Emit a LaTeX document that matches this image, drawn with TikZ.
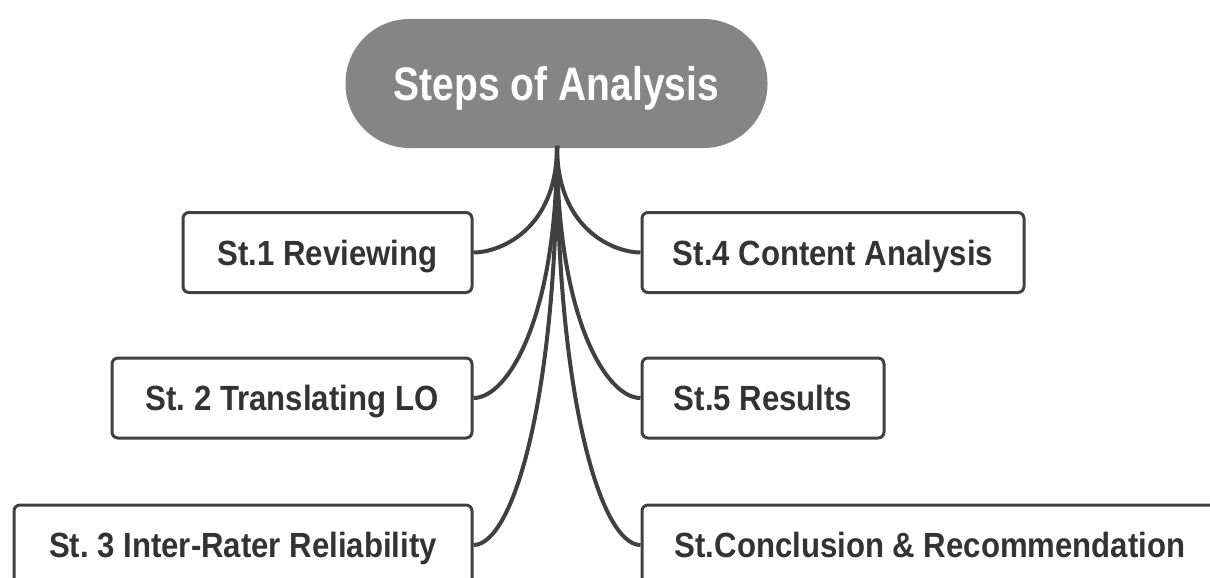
\documentclass[tikz,border=0pt]{standalone}
\usepackage{fontspec}
\newfontfamily\labfont[FakeStretch=0.89]{Liberation Sans}
\newfontfamily\ttlfont[FakeStretch=0.83]{Liberation Sans}
\definecolor{rootgray}{HTML}{858585}
\definecolor{edgegray}{HTML}{404040}
\definecolor{txtgray}{HTML}{333333}
\frenchspacing
\tikzset{
  rootbox/.style={draw=none, fill=rootgray, rounded corners=64pt, minimum width=422pt, minimum height=129pt, inner sep=0pt, text height=34pt, text depth=0pt, text=white, font=\ttlfont\bfseries\fontsize{47}{56}\selectfont},
  stepbox/.style={draw=edgegray, line width=3pt, fill=white, rounded corners=6pt, minimum height=80pt, inner sep=0pt, text height=25pt, text depth=0pt, text=txtgray, font=\labfont\bfseries\fontsize{35}{42}\selectfont},
  conn/.style={draw=edgegray, line width=4pt}
}
\begin{document}
\begin{tikzpicture}[x=1pt,y=-1pt]
\useasboundingbox (0,0) rectangle (1210,578);
\fill[white] (0,0) rectangle (1210,578);
\clip (0,0) rectangle (1210,578);
\node[rootbox] (root) at (556.5,83.5) {Steps of Analysis};
\node[stepbox, minimum width=289pt] (s1) at (327.5,252.5) {St.1 Reviewing};
\node[stepbox, minimum width=360pt] (s2) at (292,398) {St. 2 Translating LO};
\node[stepbox, minimum width=458pt] (s3) at (243,545) {St. 3 Inter-Rater Reliability};
\node[stepbox, minimum width=382pt] (s4) at (833,252.5) {St.4 Content Analysis};
\node[stepbox, minimum width=242pt] (s5) at (763,398) {St.5 Results};
\node[stepbox, minimum width=576pt] (s6) at (930,545) {St.Conclusion \& Recommendation};
\coordinate (apex) at (557,146);
\draw[conn] (apex) .. controls +(0,85) and +(25,0) .. (s1.east);
\draw[conn] (apex) .. controls +(0,170) and +(35,0) .. (s2.east);
\draw[conn] (apex) .. controls +(0,250) and +(40,0) .. (s3.east);
\draw[conn] (apex) .. controls +(0,85) and +(-25,0) .. (s4.west);
\draw[conn] (apex) .. controls +(0,170) and +(-35,0) .. (s5.west);
\draw[conn] (apex) .. controls +(0,250) and +(-40,0) .. (s6.west);
\end{tikzpicture}
\end{document}
